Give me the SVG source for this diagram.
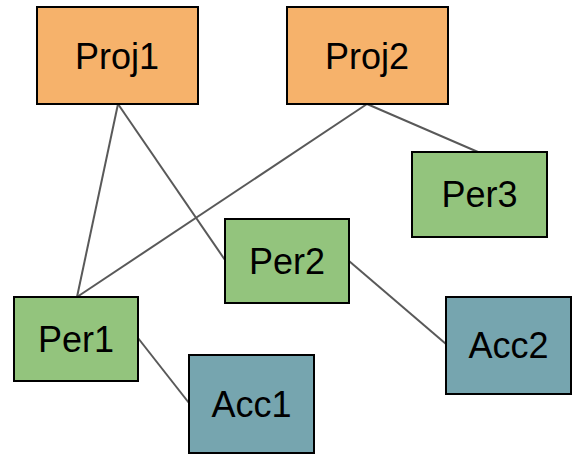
<svg xmlns="http://www.w3.org/2000/svg" width="576" height="455" viewBox="0 0 576 455">
<style>
rect{stroke:#000;stroke-width:2}
.p{fill:#f6b26b}.g{fill:#93c47d}.a{fill:#76a5af}
text{font-family:"Liberation Sans",Arial,sans-serif;font-size:36px;fill:#000;text-anchor:middle}
#edges line{stroke:#595959;stroke-width:2}
</style>
<rect width="576" height="455" fill="#fff" style="stroke:none"/>
<g id="edges">
<line x1="118" y1="104" x2="77" y2="297"/>
<line x1="118" y1="104" x2="225" y2="260"/>
<line x1="367" y1="104" x2="77" y2="297"/>
<line x1="367" y1="104" x2="478" y2="152"/>
<line x1="349" y1="261" x2="446" y2="344"/>
<line x1="138" y1="338" x2="189" y2="403"/>
</g>
<g id="Proj1"><rect class="p" x="37" y="7" width="161" height="97"/><text x="117" y="69">Proj1</text></g>
<g id="Proj2"><rect class="p" x="287" y="7" width="161" height="97"/><text x="367" y="69">Proj2</text></g>
<g id="Per3"><rect class="g" x="412" y="152" width="135" height="85"/><text x="479.5" y="207">Per3</text></g>
<g id="Per2"><rect class="g" x="225" y="219" width="124" height="84"/><text x="287" y="274">Per2</text></g>
<g id="Per1"><rect class="g" x="14" y="297" width="124" height="84"/><text x="76" y="352">Per1</text></g>
<g id="Acc1"><rect class="a" x="189" y="355" width="125" height="98"/><text x="251.5" y="417">Acc1</text></g>
<g id="Acc2"><rect class="a" x="446" y="297" width="125" height="97"/><text x="508.5" y="358">Acc2</text></g>
</svg>
